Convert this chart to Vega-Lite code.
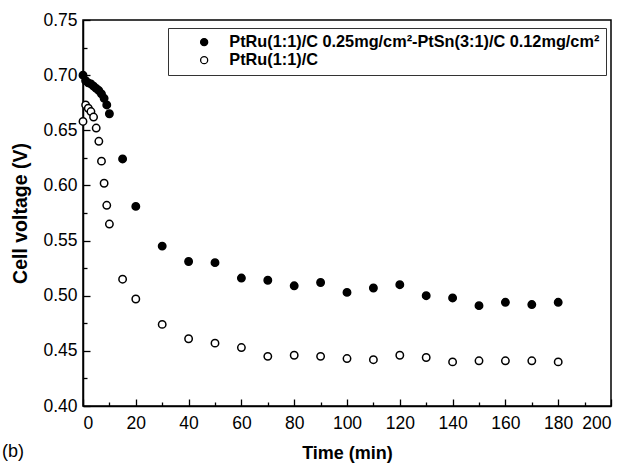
{
  "$schema": "https://vega.github.io/schema/vega-lite/v6.json",
  "width": 528,
  "height": 386,
  "autosize": {"type": "none"},
  "padding": {"left": 83, "top": 20, "right": 21, "bottom": 62},
  "background": "white",
  "config": {
    "font": "Liberation Sans",
    "view": {"stroke": "black", "strokeWidth": 1.5},
    "axis": {"grid": false, "domainColor": "black", "tickColor": "black", "labelColor": "black", "titleColor": "black", "labelFont": "Liberation Sans", "titleFont": "Liberation Sans", "domainWidth": 1.5, "tickWidth": 1.3}
  },
  "title": {"text": "(b)", "orient": "bottom", "anchor": "start", "frame": "group", "dx": -81, "offset": -20, "fontSize": 18, "fontWeight": "normal", "font": "Liberation Sans", "color": "black"},
  "datasets": {
    "pts": [
      {"series": "A", "time": 0, "voltage": 0.700},
      {"series": "A", "time": 1, "voltage": 0.695},
      {"series": "A", "time": 2, "voltage": 0.693},
      {"series": "A", "time": 3, "voltage": 0.692},
      {"series": "A", "time": 4, "voltage": 0.690},
      {"series": "A", "time": 5, "voltage": 0.688},
      {"series": "A", "time": 6, "voltage": 0.686},
      {"series": "A", "time": 7, "voltage": 0.683},
      {"series": "A", "time": 8, "voltage": 0.679},
      {"series": "A", "time": 9, "voltage": 0.673},
      {"series": "A", "time": 10, "voltage": 0.665},
      {"series": "A", "time": 15, "voltage": 0.624},
      {"series": "A", "time": 20, "voltage": 0.581},
      {"series": "A", "time": 30, "voltage": 0.545},
      {"series": "A", "time": 40, "voltage": 0.531},
      {"series": "A", "time": 50, "voltage": 0.530},
      {"series": "A", "time": 60, "voltage": 0.516},
      {"series": "A", "time": 70, "voltage": 0.514},
      {"series": "A", "time": 80, "voltage": 0.509},
      {"series": "A", "time": 90, "voltage": 0.512},
      {"series": "A", "time": 100, "voltage": 0.503},
      {"series": "A", "time": 110, "voltage": 0.507},
      {"series": "A", "time": 120, "voltage": 0.510},
      {"series": "A", "time": 130, "voltage": 0.500},
      {"series": "A", "time": 140, "voltage": 0.498},
      {"series": "A", "time": 150, "voltage": 0.491},
      {"series": "A", "time": 160, "voltage": 0.494},
      {"series": "A", "time": 170, "voltage": 0.492},
      {"series": "A", "time": 180, "voltage": 0.494},
      {"series": "B", "time": 0, "voltage": 0.658},
      {"series": "B", "time": 1, "voltage": 0.673},
      {"series": "B", "time": 2, "voltage": 0.670},
      {"series": "B", "time": 3, "voltage": 0.667},
      {"series": "B", "time": 4, "voltage": 0.662},
      {"series": "B", "time": 5, "voltage": 0.652},
      {"series": "B", "time": 6, "voltage": 0.640},
      {"series": "B", "time": 7, "voltage": 0.622},
      {"series": "B", "time": 8, "voltage": 0.602},
      {"series": "B", "time": 9, "voltage": 0.582},
      {"series": "B", "time": 10, "voltage": 0.565},
      {"series": "B", "time": 15, "voltage": 0.515},
      {"series": "B", "time": 20, "voltage": 0.497},
      {"series": "B", "time": 30, "voltage": 0.474},
      {"series": "B", "time": 40, "voltage": 0.461},
      {"series": "B", "time": 50, "voltage": 0.457},
      {"series": "B", "time": 60, "voltage": 0.453},
      {"series": "B", "time": 70, "voltage": 0.445},
      {"series": "B", "time": 80, "voltage": 0.446},
      {"series": "B", "time": 90, "voltage": 0.445},
      {"series": "B", "time": 100, "voltage": 0.443},
      {"series": "B", "time": 110, "voltage": 0.442},
      {"series": "B", "time": 120, "voltage": 0.446},
      {"series": "B", "time": 130, "voltage": 0.444},
      {"series": "B", "time": 140, "voltage": 0.440},
      {"series": "B", "time": 150, "voltage": 0.441},
      {"series": "B", "time": 160, "voltage": 0.441},
      {"series": "B", "time": 170, "voltage": 0.441},
      {"series": "B", "time": 180, "voltage": 0.440}
    ]
  },
  "data": {"name": "pts"},
  "resolve": {"axis": {"x": "independent", "y": "independent"}},
  "layer": [
    {
      "transform": [{"filter": "datum.series === 'B'"}],
      "mark": {"type": "point", "shape": "circle", "size": 55, "stroke": "black", "strokeWidth": 1.5, "opacity": 1},
      "encoding": {
        "x": {"field": "time", "type": "quantitative", "scale": {"domain": [0, 200], "nice": false, "zero": false},
          "axis": {"orient": "bottom", "values": [10, 30, 50, 70, 90, 110, 130, 150, 170, 190], "labels": false, "domain": false, "tickSize": -4, "title": null}},
        "y": {"field": "voltage", "type": "quantitative", "scale": {"domain": [0.4, 0.75], "nice": false, "zero": false},
          "axis": {"orient": "left", "values": [0.425, 0.475, 0.525, 0.575, 0.625, 0.675, 0.725], "labels": false, "domain": false, "tickSize": -4, "title": null}},
        "fill": {"field": "series", "type": "nominal",
          "scale": {"domain": ["A", "B"], "range": ["#000000", "#ffffff"]}}
      }
    },
    {
      "transform": [{"filter": "datum.series === 'A'"}],
      "mark": {"type": "point", "shape": "circle", "size": 55, "stroke": "black", "strokeWidth": 1.5, "opacity": 1},
      "encoding": {
        "x": {"field": "time", "type": "quantitative", "scale": {"domain": [0, 200], "nice": false, "zero": false},
          "axis": {"orient": "bottom", "values": [0, 20, 40, 60, 80, 100, 120, 140, 160, 180, 200], "tickSize": -7, "labelPadding": 15, "labelFontSize": 17.5, "title": "Time (min)", "titleFontSize": 18, "titleFontWeight": "bold", "titlePadding": 13}},
        "y": {"field": "voltage", "type": "quantitative", "scale": {"domain": [0.4, 0.75], "nice": false, "zero": false},
          "axis": {"orient": "left", "values": [0.4, 0.45, 0.5, 0.55, 0.6, 0.65, 0.7, 0.75], "format": ".2f", "tickSize": -7, "labelPadding": 13, "labelFontSize": 17.5, "title": "Cell voltage (V)", "titleFontSize": 19.5, "titleFontWeight": "bold", "titlePadding": 12}},
        "fill": {"field": "series", "type": "nominal",
          "scale": {"domain": ["A", "B"], "range": ["#000000", "#ffffff"]},
          "legend": {"orient": "none", "legendX": 85, "legendY": 8, "title": null, "direction": "vertical",
            "strokeColor": "#333333", "padding": 6, "symbolOffset": 22, "symbolType": "circle", "symbolSize": 50,
            "symbolStrokeColor": "black", "symbolStrokeWidth": 1.3, "labelOffset": 17, "labelFontSize": 16.3, "labelFontWeight": "bold", "labelFont": "Liberation Sans", "labelColor": "black", "rowPadding": 1, "labelLimit": 500,
            "labelExpr": "datum.value === 'A' ? 'PtRu(1:1)/C 0.25mg/cm²-PtSn(3:1)/C 0.12mg/cm²' : 'PtRu(1:1)/C'"}}
      }
    }
  ]
}
